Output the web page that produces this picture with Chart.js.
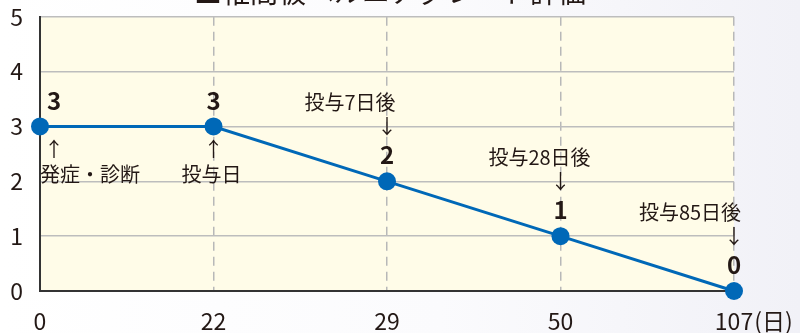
<!DOCTYPE html>
<html lang="ja">
<head>
<meta charset="utf-8">
<script src="https://cdn.jsdelivr.net/npm/chart.js@4.4.0/dist/chart.umd.min.js"></script>
<style>
    html, body { margin: 0; padding: 0; }
    body {
        width: 800px;
        height: 333px;
        overflow: hidden;
        background: linear-gradient(to right, #ffffff 0%, #fbfbfd 55%, #f1f1f7 100%);
    }
    #wrap { position: relative; width: 800px; height: 333px; overflow: hidden; }
    #inner { position: absolute; left: 0; top: -14px; width: 800px; height: 347px; }
</style>
</head>
<body>
<div id="wrap"><div id="inner"><canvas id="grade-chart"></canvas></div></div>
<script>
(function () {
    'use strict';

    // DATA
    var dayLabels = ['0', '22', '29', '50', '107'];
    var gradeValues = [3, 3, 2, 1, 0];
    var notesAbove = ['', '', '投与7日後', '投与28日後', '投与85日後'];
    var notesBelow = ['発症・診断', '投与日', '', '', ''];
    var dayUnit = '(日)';
    var chartTitle = '■椎間板ヘルニアグレード評価';

    var FONT = '"Noto Sans CJK JP", "Noto Sans", sans-serif';
    var INK = '#231815';
    var BLUE = '#0068b7';

    // horizontal nudges of the note texts, per point
    var noteShift = [50, -2, -37, -21, -44];
    var markShift = [14, 0, 0, 0, 0];

    var plotBackground = {
        id: 'plotBackground',
        beforeDraw: function (chart) {
            var a = chart.chartArea;
            var ctx = chart.ctx;
            ctx.save();
            ctx.fillStyle = '#fffce8';
            ctx.fillRect(a.left, a.top, a.right - a.left, a.bottom - a.top);
            ctx.restore();
        }
    };

    var notes = {
        id: 'notes',
        afterDraw: function (chart) {
            var ctx = chart.ctx;
            var meta = chart.getDatasetMeta(0);
            var a = chart.chartArea;
            ctx.save();
            ctx.fillStyle = INK;
            ctx.textAlign = 'center';

            //TITLE (cut off at the top of the picture)
            ctx.font = '28px ' + FONT;
            ctx.textBaseline = 'alphabetic';
            ctx.fillText(chartTitle, 390, a.top - 14);
            ctx.textBaseline = 'middle';

            meta.data.forEach(function (pt, i) {
                var x = pt.x, y = pt.y;
                ctx.font = 'bold 24px ' + FONT;
                ctx.fillText(String(gradeValues[i]), x + markShift[i], y - 26);

                ctx.font = '20px ' + FONT;
                if (notesAbove[i]) {
                    ctx.fillText('↓', x + markShift[i], y - 55);
                    ctx.fillText(notesAbove[i], x + noteShift[i], y - 79);
                }
                if (notesBelow[i]) {
                    ctx.fillText('↑', x + markShift[i], y + 23);
                    ctx.fillText(notesBelow[i], x + noteShift[i], y + 48);
                }
            });

            //UNIT AFTER THE LAST DAY TICK
            var xs = chart.scales.x;
            var lastX = xs.getPixelForTick(dayLabels.length - 1);
            ctx.font = '23px ' + FONT;
            var w = ctx.measureText(dayLabels[dayLabels.length - 1]).width;
            ctx.textAlign = 'left';
            ctx.fillText(dayUnit, lastX + w / 2 + 1, a.bottom + 30);
            ctx.restore();
        }
    };

    new Chart(document.getElementById('grade-chart'), {
        type: 'line',
        data: {
            labels: dayLabels,
            datasets: [
                {
                    data: gradeValues,
                    borderColor: BLUE,
                    backgroundColor: BLUE,
                    borderWidth: 3,
                    pointRadius: 9,
                    pointBorderWidth: 0,
                    pointBackgroundColor: BLUE,
                    tension: 0,
                    clip: false
                }
            ]
        },
        options: {
            responsive: true,
            maintainAspectRatio: false,
            animation: false,
            layout: { autoPadding: false, padding: { top: 2, right: 66, left: 0, bottom: 0 } },
            plugins: {
                legend: { display: false },
                tooltip: { enabled: false }
            },
            scales: {
                x: {
                    type: 'category',
                    offset: false,
                    afterFit: function (scale) { scale.height = 42; },
                    grid: {
                        drawTicks: false,
                        lineWidth: 1.5,
                        color: function (c) { return c.index === 0 ? 'rgba(0,0,0,0)' : '#b8b8b8'; }
                    },
                    border: { color: '#333333', width: 2, dash: [9, 6] },
                    ticks: {
                        color: INK,
                        padding: 16,
                        maxRotation: 0,
                        autoSkip: false,
                        font: { family: FONT, size: 23 }
                    }
                },
                y: {
                    min: 0,
                    max: 5,
                    afterFit: function (scale) { scale.width = 40; },
                    grid: { drawTicks: false, lineWidth: 1.5, color: '#bdbdbd' },
                    border: { color: '#333333', width: 2 },
                    ticks: {
                        stepSize: 1,
                        color: INK,
                        padding: 17,
                        font: { family: FONT, size: 23 }
                    }
                }
            }
        },
        plugins: [plotBackground, notes]
    });
})();
</script>
</body>
</html>
